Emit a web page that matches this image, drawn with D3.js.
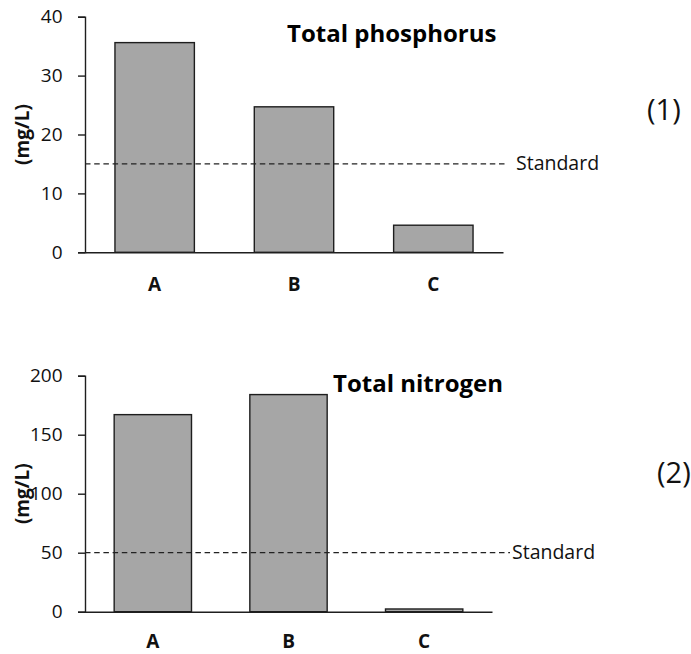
<!DOCTYPE html>
<html>
<head>
<meta charset="utf-8">
<script src="https://cdn.jsdelivr.net/npm/d3@7"></script>
<style>
  html, body { margin: 0; padding: 0; background: #fff; }
  svg { display: block; }
</style>
</head>
<body>
<svg id="chart" width="691" height="654"></svg>
<script>
// ---- data ----
const categories = ["A", "B", "C"];
const phosphorusValues = [35.6, 24.7, 4.6];
const nitrogenValues = [167, 184, 2.3];
const phosphorusTicks = [0, 10, 20, 30, 40];
const nitrogenTicks = [0, 50, 100, 150, 200];
const phosphorusStandard = 15;
const nitrogenStandard = 50;
const titles = ["Total phosphorus", "Total nitrogen"];
const panelLabels = ["(1)", "(2)"];
const unitLabel = "(mg/L)";
const standardLabel = "Standard";

const svg = d3.select("#chart");
const FONT = "'Open Sans', 'Noto Sans', sans-serif";

function drawPanel(opt) {
  const g = svg.append("g");
  const x = d3.scaleBand().domain(categories)
    .range([opt.x0, opt.x1]).paddingInner(0.43).paddingOuter(0.215);
  const y = d3.scaleLinear().domain([0, opt.ticks[opt.ticks.length - 1]])
    .range([opt.yBottom, opt.yTop]);

  // bars
  g.selectAll("rect.bar").data(opt.values).enter().append("rect")
    .attr("class", "bar")
    .attr("x", (d, i) => x(categories[i]))
    .attr("width", x.bandwidth())
    .attr("y", d => y(d))
    .attr("height", d => y(0) - y(d))
    .attr("fill", "#a6a6a6")
    .attr("stroke", "#1e1e1e")
    .attr("stroke-width", 1.4);

  // y axis
  const yAxis = d3.axisLeft(y).tickValues(opt.ticks).tickSize(7).tickSizeOuter(7).tickPadding(15.5);
  const ya = g.append("g").attr("transform", `translate(${opt.x0},0)`).call(yAxis);
  ya.select(".domain").attr("stroke", "#1e1e1e").attr("stroke-width", 1.4);
  ya.selectAll(".tick line").attr("stroke", "#1e1e1e").attr("stroke-width", 1.4);
  ya.selectAll(".tick text").attr("font-family", FONT).attr("font-size", 19).attr("fill", "#111");

  // x axis line
  const xAxis = d3.axisBottom(x).tickSize(0).tickSizeOuter(0).tickPadding(0);
  const xa = g.append("g").attr("transform", `translate(0,${y(0)})`).call(xAxis);
  xa.select(".domain").attr("stroke", "#1e1e1e").attr("stroke-width", 1.4);
  xa.selectAll(".tick text")
    .attr("font-family", FONT).attr("font-size", 19).attr("font-weight", "bold")
    .attr("fill", "#111").attr("dy", null).attr("y", opt.catBaseline - y(0));

  // standard line
  g.append("line")
    .attr("x1", opt.x0).attr("x2", opt.dashEnd)
    .attr("y1", y(opt.standard)).attr("y2", y(opt.standard))
    .attr("stroke", "#222").attr("stroke-width", 1.3)
    .attr("stroke-dasharray", "5.5,3.7");
  g.append("text")
    .attr("x", opt.standardTextX).attr("y", y(opt.standard) + 6.5)
    .attr("font-family", FONT).attr("font-size", 19.5).attr("fill", "#111")
    .text(standardLabel);

  // title
  g.append("text")
    .attr("x", opt.titleX).attr("y", opt.titleY)
    .attr("font-family", FONT).attr("font-size", 24).attr("font-weight", "bold")
    .attr("fill", "#000")
    .text(opt.title);

  // unit label
  const cy = (opt.yTop + opt.yBottom) / 2;
  g.append("text")
    .attr("transform", `translate(29,${cy}) rotate(-90)`)
    .attr("text-anchor", "middle")
    .attr("font-family", FONT).attr("font-size", 19).attr("font-weight", "bold")
    .attr("fill", "#111")
    .text(unitLabel);

  // panel label
  g.append("text")
    .attr("x", opt.panelX).attr("y", opt.panelY)
    .attr("font-family", FONT).attr("font-size", 29).attr("fill", "#111")
    .text(opt.panel);
}

drawPanel({
  values: phosphorusValues, ticks: phosphorusTicks, standard: phosphorusStandard,
  x0: 85, x1: 503, yTop: 16.7, yBottom: 252.3, catBaseline: 291,
  dashEnd: 507, standardTextX: 516,
  title: titles[0], titleX: 287, titleY: 42,
  panel: panelLabels[0], panelX: 647, panelY: 120
});

drawPanel({
  values: nitrogenValues, ticks: nitrogenTicks, standard: nitrogenStandard,
  x0: 85, x1: 492, yTop: 375.7, yBottom: 611.7, catBaseline: 648.5,
  dashEnd: 510, standardTextX: 512,
  title: titles[1], titleX: 333, titleY: 392,
  panel: panelLabels[1], panelX: 657, panelY: 483
});
</script>
</body>
</html>
